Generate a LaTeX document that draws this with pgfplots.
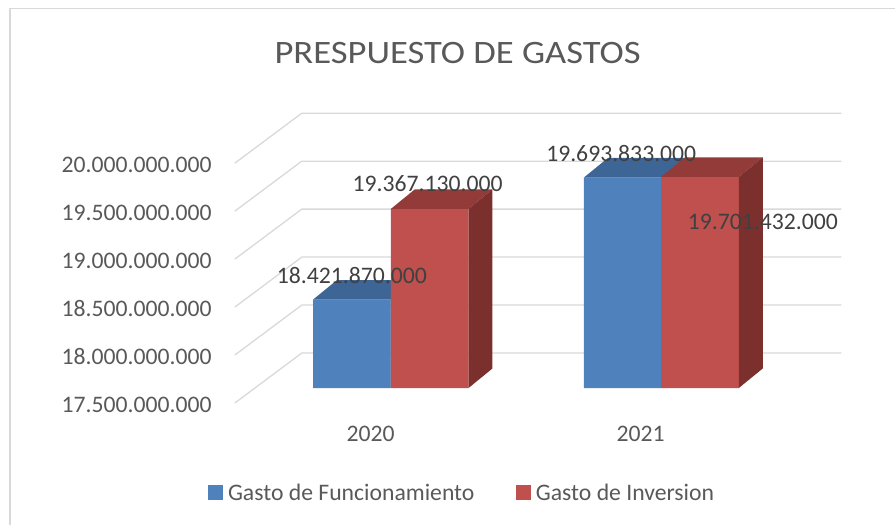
\documentclass[border=0pt]{standalone}
\usepackage{pgfplots}
\pgfplotsset{compat=1.18}
\usepackage{pgfplotstable}
\usepackage{fontspec}
\setmainfont{Carlito}
\newfontfamily\titlefont[FakeStretch=1.12]{Carlito}
\usetikzlibrary{calc}
\definecolor{bluefront}{HTML}{4F81BD}
\definecolor{bluetop}{HTML}{3D6596}
\definecolor{blueside}{HTML}{35598A}
\definecolor{redfront}{HTML}{C0504D}
\definecolor{redtop}{HTML}{933B39}
\definecolor{redside}{HTML}{7B302E}
\definecolor{gridc}{HTML}{D9D9D9}
\definecolor{tickc}{HTML}{595959}
\definecolor{labc}{HTML}{404040}

% values in thousands of millions; x = bar centre in picture units
\pgfplotstableread{
x v
352.15 18.42187
623.15 19.693833
}\funcdata
\pgfplotstableread{
x v
430.0 19.36713
700.5 19.701432
}\invdata

% top and side faces of a bar: #1 left x, #2 right x, #3 value, #4 top colour, #5 side colour
\newcommand\cubefaces[5]{%
  \pgfmathsetmacro\xa{#1+24}%
  \pgfmathsetmacro\xb{#2+24}%
  \pgfmathsetmacro\vt{#3+0.204}%
  \addplot[fill=#4, draw=none] coordinates {(#1,#3) (#2,#3) (\xb,\vt) (\xa,\vt)} --cycle;
  \addplot[fill=#5, draw=none] coordinates {(#2,17.5) (#2,#3) (\xb,\vt) (\xb,17.704)} --cycle;
}

\newcommand\txt{\fontsize{23.7bp}{28bp}\selectfont}

\begin{document}
\begin{tikzpicture}
\begin{axis}[name=main,
  x=1bp, y=96bp,
  xmin=235, xmax=842, ymin=17.5, ymax=20.5,
  clip=false,
  axis line style={draw=none},
  major tick length=0pt,
  ytick={17.5,18,18.5,19,19.5,20},
  yticklabels={17.500.000.000,18.000.000.000,18.500.000.000,19.000.000.000,19.500.000.000,20.000.000.000},
  xtick={371,641}, xticklabels={2020,2021},
  tick label style={font=\txt, text=tickc},
  yticklabel style={anchor=east, inner sep=0pt, xshift=-23bp, yshift=-1.5bp},
  xticklabel style={anchor=center, inner sep=0pt, yshift=-31.2bp},
  legend columns=2,
  legend cell align=left,
  legend style={at={(axis cs:208.3,16.5615)}, anchor=west, draw=none, fill=none,
    inner sep=0pt, outer sep=0pt, font=\txt, text=tickc,
    nodes={inner sep=0pt},
    /tikz/every odd column/.append style={column sep=6bp},
    /tikz/every even column/.append style={column sep=41.6bp}},
]
% 3-D gridlines: front (side wall) segment and back wall
\addplot[gridc, line width=1.3bp, forget plot] coordinates {(235,17.5) (302,18.021) (842,18.021)};
\addplot[gridc, line width=1.3bp, forget plot] coordinates {(235,18.0) (302,18.521) (842,18.521)};
\addplot[gridc, line width=1.3bp, forget plot] coordinates {(235,18.5) (302,19.021) (842,19.021)};
\addplot[gridc, line width=1.3bp, forget plot] coordinates {(235,19.0) (302,19.521) (842,19.521)};
\addplot[gridc, line width=1.3bp, forget plot] coordinates {(235,19.5) (302,20.021) (842,20.021)};
\addplot[gridc, line width=1.3bp, forget plot] coordinates {(235,17.5) (235,17.5)};
\addplot[gridc, line width=1.3bp, forget plot] coordinates {(235,20.0) (302,20.521) (842,20.521)};

\addlegendimage{legend image code/.code={\fill[bluefront] (0bp,-5.7bp) rectangle (13.5bp,8.3bp);}}
\addlegendentry{Gasto de Funcionamiento}
\addlegendimage{legend image code/.code={\fill[redfront] (0bp,-5.7bp) rectangle (13.5bp,8.3bp);}}
\addlegendentry{Gasto de Inversion}

\node[font=\titlefont\fontsize{32.7bp}{36bp}\selectfont, text=tickc, inner sep=0pt]
  at (axis cs:458,21.149) {PRESPUESTO DE GASTOS};
\draw[gridc, line width=1.3bp] (axis cs:10,16.2323) -- (axis cs:10,21.6146) -- (axis cs:896,21.6146);
\path (axis cs:0,21.70104) rectangle (axis cs:896,16.23229);
\end{axis}

\begin{axis}[at={($(main.south west)+(0,15bp)$)}, anchor=south west,
  x=1bp, y=96bp,
  xmin=235, xmax=842, ymin=17.5, ymax=20.5,
  hide axis, clip mode=individual,
  bar width=77.7,
]
\addplot[ybar, bar shift=0pt, fill=bluefront, draw=none] table[x=x, y=v] {\funcdata};
\cubefaces{313.3}{391}{18.42187}{bluetop}{blueside}
\cubefaces{584.3}{662}{19.693833}{bluetop}{blueside}
\addplot[ybar, bar shift=0pt, fill=redfront, draw=none] table[x=x, y=v] {\invdata};
\cubefaces{391.15}{468.85}{19.36713}{redtop}{redside}
\cubefaces{661.65}{739.35}{19.701432}{redtop}{redside}

\node[font=\txt, text=labc, inner sep=0pt] at (axis cs:352.2,18.673) {18.421.870.000};
\node[font=\txt, text=labc, inner sep=0pt] at (axis cs:428,19.635) {19.367.130.000};
\node[font=\txt, text=labc, inner sep=0pt] at (axis cs:621.7,19.948) {19.693.833.000};
\node[font=\txt, text=labc, inner sep=0pt] at (axis cs:763.5,19.235) {19.701.432.000};
\end{axis}
\end{tikzpicture}
\end{document}
